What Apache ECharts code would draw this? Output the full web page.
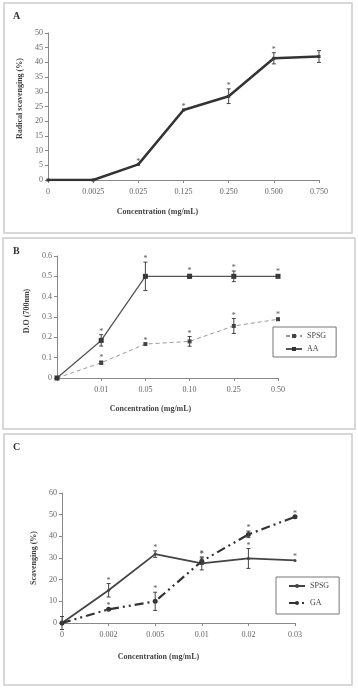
<!DOCTYPE html>
<html>
<head>
<meta charset="utf-8">
<script src="https://cdn.jsdelivr.net/npm/echarts@6/dist/echarts.min.js"></script>
<style>
html,body{margin:0;padding:0;background:#fff}
#main{width:358px;height:688px}
</style>
</head>
<body>
<div id="main"></div>
<script>
// A - radical scavenging
var catsA = ['0', '0.0025', '0.025', '0.125', '0.250', '0.500', '0.750'];
var scavA = [0, 0, 5.3, 23.8, 28.5, 41.4, 42];
var errA = [0, 0, 0, 0, 2.5, 1.9, 2];
var sigA = [0, 0, 1, 1, 1, 1, 0];

// B - D.O
var catsB = ['', '0.01', '0.05', '0.10', '0.25', '0.50'];
var spsgB = [0, 0.075, 0.167, 0.18, 0.256, 0.289];
var spsgErrB = [0, 0.008, 0, 0.024, 0.037, 0.005];
var spsgSigB = [0, 1, 1, 1, 1, 1];
var aaB = [0, 0.185, 0.5, 0.5, 0.5, 0.5];
var aaErrB = [0, 0.028, 0.07, 0.01, 0.026, 0.006];
var aaSigB = [0, 1, 1, 1, 1, 1];

// C - scavenging
var catsC = ['0', '0.002', '0.005', '0.01', '0.02', '0.03'];
var spsgC = [0, 15.1, 31.8, 27.5, 29.8, 28.9];
var spsgErrC = [0, 3.1, 1.5, 3, 4.6, 0];
var spsgSigC = [0, 1, 1, 1, 1, 1];
var gaC = [0, 6.3, 10, 28.5, 40.9, 49];
var gaErrC = [3, 0, 4.2, 1.5, 1.5, 0];
var gaSigC = [0, 1, 1, 1, 1, 1];

var FONT = 'Liberation Serif';
var chart = echarts.init(document.getElementById('main'));

function errData(vals, errs, sigs) {
    return vals.map(function (v, i) { return [i, v, errs[i], sigs[i]]; });
}

// error bars + asterisks
function errItem(params, api) {
    var x = api.value(0), v = api.value(1), e = api.value(2), s = api.value(3);
    var top = api.coord([x, v + e]);
    var bot = api.coord([x, v - e]);
    var kids = [];
    var st = { stroke: '#444', lineWidth: 1 };
    if (e > 0) {
        kids.push({ type: 'line', shape: { x1: top[0], y1: top[1], x2: bot[0], y2: bot[1] }, style: st });
        kids.push({ type: 'line', shape: { x1: top[0] - 2, y1: top[1], x2: top[0] + 2, y2: top[1] }, style: st });
        kids.push({ type: 'line', shape: { x1: bot[0] - 2, y1: bot[1], x2: bot[0] + 2, y2: bot[1] }, style: st });
    }
    if (s) {
        kids.push({ type: 'text', style: { text: '*', x: top[0], y: top[1] + 1, align: 'center', verticalAlign: 'bottom', fill: '#555', font: '8px ' + FONT } });
    }
    return { type: 'group', children: kids };
}

var tick = { color: '#666', fontSize: 8, fontFamily: FONT };
var axLine = { show: true, lineStyle: { color: '#888', width: 1 } };
var axTick = { show: true, length: 3, lineStyle: { color: '#888' } };
var nameSt = { color: '#444', fontSize: 8, fontFamily: FONT, fontWeight: 'bold' };

function xAx(idx, cats, gap, pad) {
    return {
        type: 'category', gridIndex: idx, data: cats, boundaryGap: false,
        axisLine: axLine, axisTick: axTick, axisLabel: Object.assign({ margin: 8 }, tick),
        name: 'Concentration (mg/mL)', nameLocation: 'middle', nameGap: gap,
        nameTextStyle: Object.assign({ padding: pad }, nameSt)
    };
}
function yAx(idx, max, iv, name, gap, pad, fmt) {
    return {
        type: 'value', gridIndex: idx, min: 0, max: max, interval: iv,
        axisLine: axLine, axisTick: axTick, splitLine: { show: false },
        axisLabel: Object.assign({ margin: 5, formatter: fmt }, tick),
        name: name, nameLocation: 'middle', nameRotate: 90, nameGap: gap,
        nameTextStyle: Object.assign({ padding: pad }, nameSt)
    };
}

var panelTitle = { fontSize: 10, fontFamily: FONT, fontWeight: 'bold', color: '#333' };

chart.setOption({
    animation: false,
    backgroundColor: '#fff',
    graphic: [
        { type: 'rect', shape: { x: 4, y: 3, width: 348, height: 230 }, style: { fill: 'none', stroke: '#ccc', lineWidth: 1.5 } },
        { type: 'rect', shape: { x: 3, y: 238, width: 352, height: 191 }, style: { fill: 'none', stroke: '#ccc', lineWidth: 1.5 } },
        { type: 'rect', shape: { x: 4, y: 434, width: 348, height: 251 }, style: { fill: 'none', stroke: '#ccc', lineWidth: 1.5 } }
    ],
    title: [
        { text: 'A', left: 8, top: 6, textStyle: panelTitle },
        { text: 'B', left: 8, top: 241, textStyle: panelTitle },
        { text: 'C', left: 8, top: 437, textStyle: panelTitle }
    ],
    legend: [
        {
            data: ['SPSG_B', 'AA'], orient: 'vertical', left: 273, top: 327,
            padding: [5, 10, 4, 12], itemGap: 5, itemWidth: 16, itemHeight: 5,
            borderColor: '#777', borderWidth: 1,
            formatter: function (n) { return n.split('_')[0]; },
            textStyle: { fontSize: 8, fontFamily: FONT, color: '#444' }
        },
        {
            data: ['SPSG_C', 'GA'], orient: 'vertical', left: 276, top: 577,
            padding: [5, 10, 7, 12], itemGap: 9, itemWidth: 16, itemHeight: 5,
            borderColor: '#777', borderWidth: 1,
            formatter: function (n) { return n.split('_')[0]; },
            textStyle: { fontSize: 8, fontFamily: FONT, color: '#444' }
        }
    ],
    grid: [
        { left: 48, right: 39, top: 33, bottom: 508 },
        { left: 57, right: 80, top: 256, bottom: 310 },
        { left: 62, right: 63, top: 493, bottom: 65 }
    ],
    xAxis: [
        xAx(0, catsA, 28, [0, 52, 0, 0]),
        xAx(1, catsB, 27, [0, 34, 0, 0]),
        xAx(2, catsC, 30, [0, 40, 0, 0])
    ],
    yAxis: [
        yAx(0, 50, 5, 'Radical scavenging (%)', 22, [0, 0, 0, 16]),
        yAx(1, 0.6, 0.1, 'D.O (700nm)', 24, [0, 0, 0, 12], function (v) { return v === 0 ? '0' : v.toFixed(1); }),
        yAx(2, 60, 10, 'Scavenging (%)', 23, [0, 0, 0, 0])
    ],
    series: [
        {
            name: 'A', type: 'line', xAxisIndex: 0, yAxisIndex: 0, data: scavA,
            symbol: 'rect', symbolSize: 3, itemStyle: { color: '#333' },
            lineStyle: { color: '#333', width: 2.5 }
        },
        {
            type: 'custom', xAxisIndex: 0, yAxisIndex: 0, renderItem: errItem,
            data: errData(scavA, errA, sigA), encode: { x: 0, y: 1 }, z: 5
        },
        {
            name: 'SPSG_B', type: 'line', xAxisIndex: 1, yAxisIndex: 1, data: spsgB,
            symbol: 'rect', symbolSize: 4, itemStyle: { color: '#444' },
            lineStyle: { color: '#999', width: 1, type: [4, 3] }
        },
        {
            name: 'AA', type: 'line', xAxisIndex: 1, yAxisIndex: 1, data: aaB,
            symbol: 'rect', symbolSize: 5, itemStyle: { color: '#333' },
            lineStyle: { color: '#555', width: 1.3 }
        },
        {
            type: 'custom', xAxisIndex: 1, yAxisIndex: 1, renderItem: errItem,
            data: errData(spsgB, spsgErrB, spsgSigB), encode: { x: 0, y: 1 }, z: 5
        },
        {
            type: 'custom', xAxisIndex: 1, yAxisIndex: 1, renderItem: errItem,
            data: errData(aaB, aaErrB, aaSigB), encode: { x: 0, y: 1 }, z: 5
        },
        {
            name: 'SPSG_C', type: 'line', xAxisIndex: 2, yAxisIndex: 2, data: spsgC,
            symbol: 'circle', symbolSize: 3, itemStyle: { color: '#444' },
            lineStyle: { color: '#444', width: 1.8 }
        },
        {
            name: 'GA', type: 'line', xAxisIndex: 2, yAxisIndex: 2, data: gaC,
            symbol: 'circle', symbolSize: 5, itemStyle: { color: '#333' },
            lineStyle: { color: '#333', width: 2.2, type: [9, 4, 2, 4, 2, 4] }
        },
        {
            type: 'custom', xAxisIndex: 2, yAxisIndex: 2, renderItem: errItem,
            data: errData(spsgC, spsgErrC, spsgSigC), encode: { x: 0, y: 1 }, z: 5
        },
        {
            type: 'custom', xAxisIndex: 2, yAxisIndex: 2, renderItem: errItem,
            data: errData(gaC, gaErrC, gaSigC), encode: { x: 0, y: 1 }, z: 5
        }
    ]
});
</script>
</body>
</html>
